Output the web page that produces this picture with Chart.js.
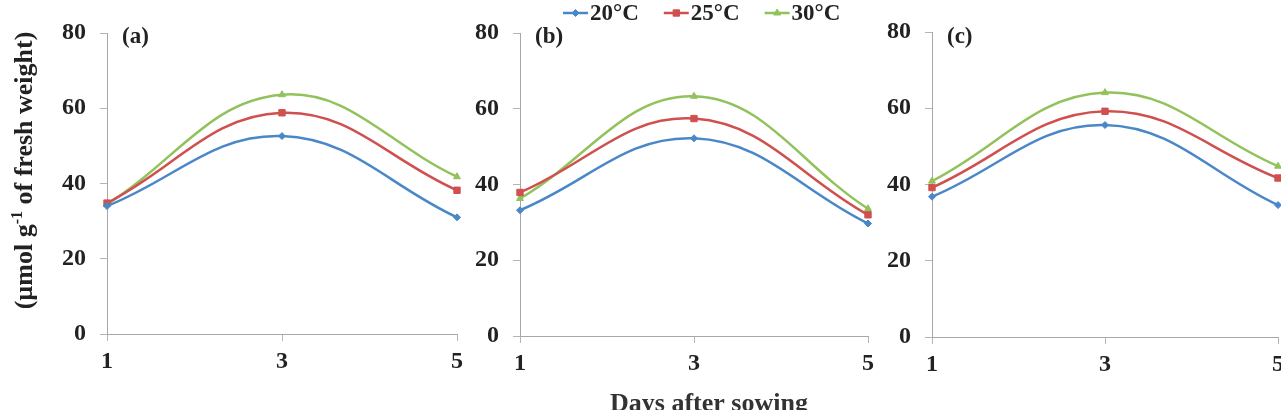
<!DOCTYPE html>
<html lang="en">
<head>
  <meta charset="UTF-8">
  <title>Days after sowing</title>
  <script src="https://cdn.jsdelivr.net/npm/chart.js"></script>
  <style>
    body{margin:0; width:1281px; height:410px; overflow:hidden; background:#fff; position:relative;}
    .panel{position:absolute; top:0; height:410px;}
    #boxA{left:0;}
    #boxB{left:430px;}
    #boxC{left:860px;}
  </style>
</head>
<body>
  <div class="panel" id="boxA"><canvas id="chartA" width="470" height="410"></canvas></div>
  <div class="panel" id="boxB"><canvas id="chartB" width="460" height="410"></canvas></div>
  <div class="panel" id="boxC"><canvas id="chartC" width="440" height="410"></canvas></div>
<script>
  // data
  const days = ['1', '3', '5'];
  const seriesNames = ['20°C', '25°C', '30°C'];
  const yTicks = [0, 20, 40, 60, 80];

  const a20 = [34.0, 52.6, 31.0];
  const a25 = [34.8, 58.8, 38.2];
  const a30 = [34.5, 63.6, 41.8];

  const b20 = [33.2, 52.2, 29.7];
  const b25 = [37.9, 57.4, 32.0];
  const b30 = [36.3, 63.3, 33.6];

  const c20 = [36.8, 55.6, 34.6];
  const c25 = [39.2, 59.2, 41.7];
  const c30 = [40.9, 64.1, 44.8];

  const colors = ['#4a87c8', '#d0504f', '#92c25b'];
  const markers = ['rectRot', 'rect', 'triangle'];
  const markerSize = [3.5, 4.5, 4];
  const serif = '"Liberation Serif", "Times New Roman", serif';
  const ink = '#222';

  // panel letter, legend, axis titles
  const panelText = {
    id: 'panelText',
    afterDraw(chart, args, opts) {
      const ctx = chart.ctx;
      const area = chart.chartArea;
      ctx.save();
      ctx.fillStyle = ink;
      ctx.textAlign = 'left';
      ctx.textBaseline = 'middle';
      ctx.font = 'bold 23px ' + serif;
      ctx.fillText(opts.label, area.left + 15, 37);

      if (opts.legend) {
        let x = opts.legend.x;
        const y = opts.legend.y;
        chart.data.datasets.forEach((ds) => {
          ctx.strokeStyle = ds.borderColor;
          ctx.lineWidth = 2.5;
          ctx.beginPath();
          ctx.moveTo(x, y);
          ctx.lineTo(x + 25, y);
          ctx.stroke();
          ctx.fillStyle = ds.borderColor;
          ctx.lineWidth = 1;
          Chart.helpers.drawPoint(ctx, {pointStyle: ds.pointStyle, radius: ds.pointRadius, rotation: 0, borderWidth: 1}, x + 12.5, y);
          ctx.fillStyle = ink;
          ctx.font = 'bold 23px ' + serif;
          ctx.fillText(ds.label, x + 27, y + 1);
          x += 27 + ctx.measureText(ds.label).width + 25;
        });
      }

      if (opts.xTitle) {
        ctx.fillStyle = '#333';
        ctx.font = 'bold 26px ' + serif;
        ctx.textAlign = 'center';
        ctx.textBaseline = 'alphabetic';
        ctx.fillText(opts.xTitle.text, opts.xTitle.x, opts.xTitle.y);
      }

      if (opts.yTitle) {
        // "(µmol g-1 of fresh weight)" with a raised -1
        const big = 'bold 26px ' + serif;
        const small = 'bold 16px ' + serif;
        const parts = [['(µmol g', big, 0], ['-1', small, -10], [' of fresh weight)', big, 0]];
        let total = 0;
        parts.forEach(p => { ctx.font = p[1]; total += ctx.measureText(p[0]).width; });
        ctx.translate(opts.yTitle.x, opts.yTitle.y + total / 2);
        ctx.rotate(-Math.PI / 2);
        ctx.fillStyle = ink;
        ctx.textAlign = 'left';
        ctx.textBaseline = 'alphabetic';
        let pos = 0;
        parts.forEach(p => {
          ctx.font = p[1];
          ctx.fillText(p[0], pos, p[2]);
          pos += ctx.measureText(p[0]).width;
        });
      }
      ctx.restore();
    }
  };

  function makeChart(id, label, d20, d25, d30, geo, extra) {
    const values = [d20, d25, d30];
    const datasets = values.map((v, i) => ({
      label: seriesNames[i],
      data: v,
      borderColor: colors[i],
      backgroundColor: colors[i],
      borderWidth: 2.5,
      tension: 0.4,
      pointStyle: markers[i],
      pointRadius: markerSize[i],
      pointBackgroundColor: colors[i],
      pointBorderColor: colors[i],
      pointBorderWidth: 1
    }));

    return new Chart(document.getElementById(id), {
      type: 'line',
      data: {labels: days, datasets: datasets},
      options: {
        responsive: false,
        animation: false,
        events: [],
        layout: {padding: {top: geo.top, right: geo.right, left: 0, bottom: 0}},
        plugins: {
          legend: {display: false},
          tooltip: {enabled: false},
          panelText: Object.assign({label: label}, extra)
        },
        scales: {
          x: {
            grid: {display: true, drawOnChartArea: false, drawTicks: true, tickLength: 7, color: '#b5b5b5'},
            border: {display: true, color: '#a8a8a8', width: 1},
            ticks: {color: ink, font: {family: serif, size: 24, weight: 'bold'}, padding: 6, maxRotation: 0},
            afterFit: (s) => { s.height = geo.xHeight; }
          },
          y: {
            min: 0,
            max: 80,
            afterBuildTicks: (s) => { s.ticks = yTicks.map(v => ({value: v})); },
            grid: {display: true, drawOnChartArea: false, drawTicks: true, tickLength: 7, color: '#b5b5b5'},
            border: {display: true, color: '#a8a8a8', width: 1},
            ticks: {color: ink, font: {family: serif, size: 24, weight: 'bold'}, padding: 14},
            afterFit: (s) => { s.width = geo.yWidth; }
          }
        }
      },
      plugins: [panelText]
    });
  }

  makeChart('chartA', '(a)', a20, a25, a30,
    {yWidth: 107, top: 33, right: 13, xHeight: 76},
    {yTitle: {x: 32, y: 170.5}});

  makeChart('chartB', '(b)', b20, b25, b30,
    {yWidth: 90, top: 33, right: 22, xHeight: 74},
    {legend: {x: 133, y: 13}, xTitle: {text: 'Days after sowing', x: 279, y: 411}});

  makeChart('chartC', '(c)', c20, c25, c30,
    {yWidth: 72, top: 32, right: 22, xHeight: 73},
    {});
</script>
</body>
</html>
